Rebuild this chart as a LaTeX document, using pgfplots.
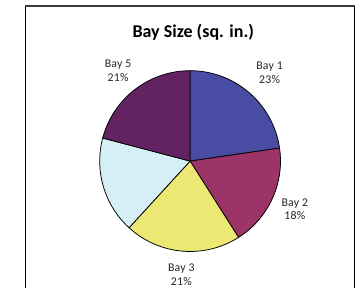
\documentclass[border=0pt]{standalone}
\usepackage{pgfplots}
\pgfplotsset{compat=1.18}
\usepackage{pgfplotstable}
\usepackage{fontspec}
\setmainfont{Carlito}
\definecolor{bayA}{RGB}{72,76,162}
\definecolor{bayB}{RGB}{157,52,103}
\definecolor{bayC}{RGB}{235,232,116}
\definecolor{bayD}{RGB}{214,238,245}
\definecolor{bayE}{RGB}{99,34,98}
\definecolor{frame}{RGB}{60,60,60}
\pgfplotstableread{
bay value
1 22.7
2 18.3
3 20.8
4 17.3
5 20.9
}\baydata
\begin{document}
\pgfplotstablegetelem{0}{value}\of\baydata\let\vA\pgfplotsretval
\pgfplotstablegetelem{1}{value}\of\baydata\let\vB\pgfplotsretval
\pgfplotstablegetelem{2}{value}\of\baydata\let\vC\pgfplotsretval
\pgfplotstablegetelem{3}{value}\of\baydata\let\vD\pgfplotsretval
\pgfplotstablegetelem{4}{value}\of\baydata\let\vE\pgfplotsretval
\pgfmathsetmacro\aA{90}
\pgfmathsetmacro\aB{\aA-3.6*\vA}
\pgfmathsetmacro\aC{\aB-3.6*\vB}
\pgfmathsetmacro\aD{\aC-3.6*\vC}
\pgfmathsetmacro\aE{\aD-3.6*\vD}
\pgfmathsetmacro\aF{\aE-3.6*\vE}
\begin{tikzpicture}
\begin{axis}[hide axis, scale only axis, width=266.25pt, height=226.5pt,
  xmin=0, xmax=355, ymin=0, ymax=302, enlargelimits=false, clip=false]
\def\R{71.25pt}
\path (axis cs:0,0) rectangle (axis cs:355,302);
\filldraw[fill=bayA, draw=black, line width=0.6pt] (axis cs:181.7,132.7) -- ++(\aA:\R) arc[start angle=\aA, end angle=\aB, radius=\R] -- cycle;
\filldraw[fill=bayB, draw=black, line width=0.6pt] (axis cs:181.7,132.7) -- ++(\aB:\R) arc[start angle=\aB, end angle=\aC, radius=\R] -- cycle;
\filldraw[fill=bayC, draw=black, line width=0.6pt] (axis cs:181.7,132.7) -- ++(\aC:\R) arc[start angle=\aC, end angle=\aD, radius=\R] -- cycle;
\filldraw[fill=bayD, draw=black, line width=0.6pt] (axis cs:181.7,132.7) -- ++(\aD:\R) arc[start angle=\aD, end angle=\aE, radius=\R] -- cycle;
\filldraw[fill=bayE, draw=black, line width=0.6pt] (axis cs:181.7,132.7) -- ++(\aE:\R) arc[start angle=\aE, end angle=\aF, radius=\R] -- cycle;
\node[overlay, font=\bfseries\fontsize{14.2}{16}\selectfont] at (axis cs:185,268.5) {Bay Size (sq. in.)};
\begin{scope}[every node/.style={overlay, inner sep=0pt, align=center, font=\fontsize{9.3}{10.9}\selectfont\addfontfeature{LetterSpace=2}, text=black!85}]
\node at (axis cs:265.2,225.2) {Bay 1\\23\%};
\node at (axis cs:106,227.7) {Bay 5\\21\%};
\node at (axis cs:291.8,82.2) {Bay 2\\18\%};
\node at (axis cs:172.5,13.5) {Bay 3\\21\%};
\end{scope}
\draw[overlay, black, line width=0.75pt] (axis cs:8.3,-5) -- (axis cs:8.3,295.5);
\draw[overlay, black, line width=0.75pt] (axis cs:354.5,-5) -- (axis cs:354.5,295.5);
\draw[overlay, frame, line width=1.5pt] (axis cs:7.8,295.5) -- (axis cs:356,295.5);
\end{axis}
\end{tikzpicture}
\end{document}
